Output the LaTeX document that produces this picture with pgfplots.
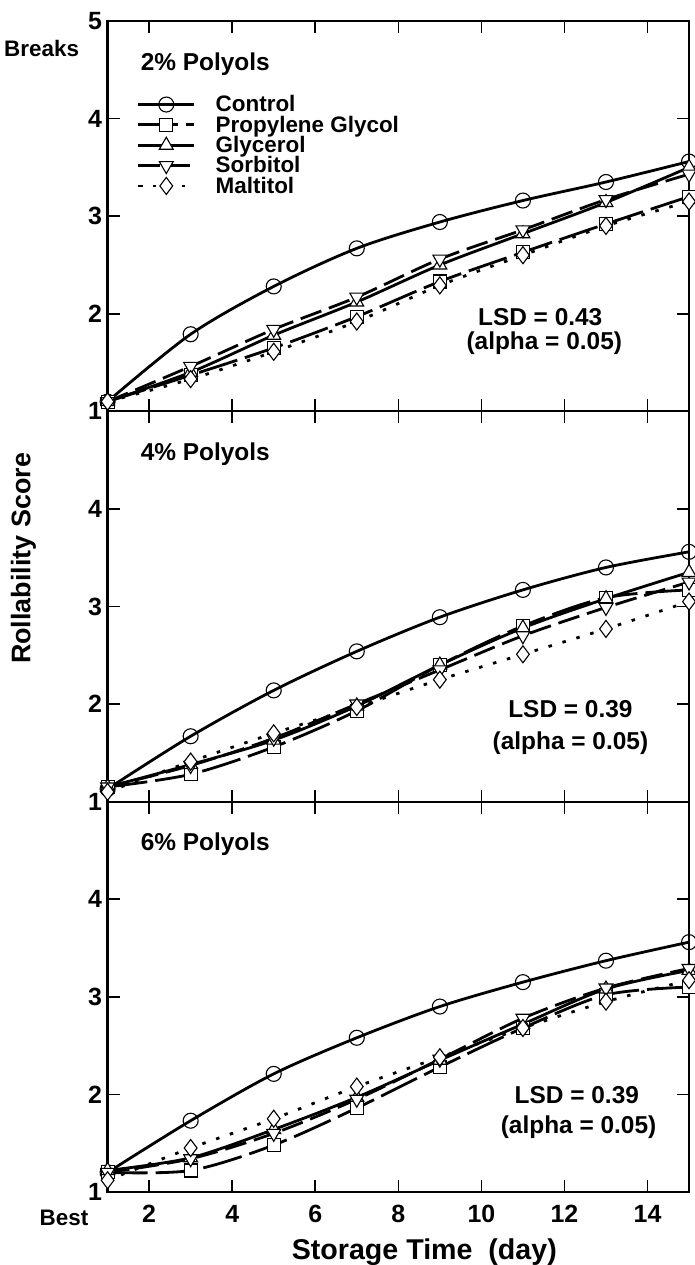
\documentclass[border=0pt]{standalone}
\usepackage{fontspec}
\setmainfont{Liberation Sans}
\usepackage{pgfplots}
\pgfplotsset{compat=1.18}

\pgfplotsset{
 panel/.style={
   scale only axis, width=581bp, height=390bp,
   xmin=1,xmax=15,ymin=1,ymax=5,
   xtick={2,4,...,14}, ytick={1,2,3,4,5},
   tick align=inside, major tick length=12bp,
   axis line style={line width=2.2bp},
   every tick/.style={line width=1.6bp, black},
   clip=false,
   /pgf/number format/assume math mode=true,
   tick label style={font=\fontsize{25}{25}\selectfont\bfseries},
   yticklabel style={xshift=-2bp},
   xticklabel style={yshift=-10bp},
   legend image code/.code={\draw[mark repeat=2,mark phase=2] plot coordinates {(0bp,0bp) (28bp,0bp) (56bp,0bp)};},
 },
 sC/.style={black, line width=2.8bp, solid, mark=o, mark size=7.5bp, mark options={fill=white, solid, line width=1.1bp}},
 sP/.style={black, line width=2.8bp, dash pattern=on 40bp off 8bp, mark=square*, mark size=6.5bp, mark options={fill=white, solid, line width=1.1bp}},
 sG/.style={black, line width=2.8bp, solid, mark=triangle*, mark size=8bp, mark options={fill=white, solid, line width=1.1bp}},
 sS/.style={black, line width=2.8bp, dash pattern=on 22bp off 8bp, mark=triangle*, mark size=8bp, mark options={fill=white, solid, line width=1.1bp, rotate=180}},
 sM/.style={black, line width=2.8bp, dash pattern=on 3.5bp off 11bp, mark=diamond*, mark size=8.5bp, mark options={fill=white, solid, line width=1.1bp}},
}

\newcommand{\lbl}{\fontsize{24.5}{24.5}\selectfont\bfseries}

\begin{document}
\begin{tikzpicture}
\useasboundingbox (-107.5bp,-73bp) rectangle (586.5bp,1191bp);

% ---------- top panel: 2% ----------
\begin{axis}[panel, at={(0bp,780bp)}, anchor=south west,
  xticklabels={}, yticklabels={1,2,3,4,5},
  legend style={draw=none, fill=none, at={(0.05,0.81)}, anchor=north west,
    inner sep=0pt, row sep=2bp, cells={anchor=west},
    nodes={inner ysep=0.3bp},
    font=\fontsize{22.5}{22.5}\selectfont\bfseries,
    /tikz/column 1/.style={column sep=18bp}}]
\addplot[sC, smooth] coordinates {(1,1.10)(3,1.79)(5,2.28)(7,2.67)(9,2.94)(11,3.16)(13,3.35)(15,3.56)};
\addlegendentry{Control}
\addplot[sP, smooth] coordinates {(1,1.10)(3,1.37)(5,1.65)(7,1.97)(9,2.33)(11,2.63)(13,2.92)(15,3.20)};
\addlegendentry{Propylene Glycol}
\addplot[sG, smooth] coordinates {(1,1.10)(3,1.40)(5,1.78)(7,2.12)(9,2.50)(11,2.82)(13,3.14)(15,3.50)};
\addlegendentry{Glycerol}
\addplot[sS, smooth] coordinates {(1,1.10)(3,1.46)(5,1.84)(7,2.17)(9,2.56)(11,2.86)(13,3.17)(15,3.43)};
\addlegendentry{Sorbitol}
\addplot[sM, smooth] coordinates {(1,1.10)(3,1.33)(5,1.61)(7,1.92)(9,2.29)(11,2.60)(13,2.90)(15,3.15)};
\addlegendentry{Maltitol}
\node[anchor=base west, font=\lbl] at (rel axis cs:0.051,0.874) {2\% Polyols};
\node[anchor=base, font=\lbl] at (rel axis cs:0.744,0.220) {LSD = 0.43};
\node[anchor=base, font=\lbl] at (rel axis cs:0.751,0.158) {(alpha = 0.05)};
\node[anchor=east, font=\fontsize{22.5}{22.5}\selectfont\bfseries] at (axis cs:1,4.72) [xshift=-25bp] {Breaks};
\end{axis}

% ---------- middle panel: 4% ----------
\begin{axis}[panel, at={(0bp,390bp)}, anchor=south west,
  xticklabels={}, yticklabels={1,2,3,4,}]
\addplot[sC, smooth] coordinates {(1,1.13)(3,1.67)(5,2.14)(7,2.54)(9,2.89)(11,3.17)(13,3.40)(15,3.56)};
\addplot[sP, smooth] coordinates {(1,1.15)(3,1.28)(5,1.56)(7,1.93)(9,2.40)(11,2.80)(13,3.09)(15,3.17)};
\addplot[sG, smooth] coordinates {(1,1.15)(3,1.38)(5,1.63)(7,1.98)(9,2.40)(11,2.78)(13,3.08)(15,3.35)};
\addplot[sS, smooth] coordinates {(1,1.15)(3,1.37)(5,1.65)(7,2.00)(9,2.35)(11,2.70)(13,2.99)(15,3.25)};
\addplot[sM, smooth] coordinates {(1,1.10)(3,1.41)(5,1.70)(7,1.97)(9,2.25)(11,2.51)(13,2.77)(15,3.05)};
\node[anchor=base west, font=\lbl] at (rel axis cs:0.051,0.874) {4\% Polyols};
\node[anchor=base, font=\lbl] at (rel axis cs:0.796,0.215) {LSD = 0.39};
\node[anchor=base, font=\lbl] at (rel axis cs:0.796,0.133) {(alpha = 0.05)};
\node[xshift=-84bp, rotate=90, font=\fontsize{27}{27}\selectfont\bfseries] at (rel axis cs:0,0.623) {Rollability Score};
\end{axis}

% ---------- bottom panel: 6% ----------
\begin{axis}[panel, at={(0bp,0bp)}, anchor=south west,
  yticklabels={1,2,3,4,}]
\addplot[sC, smooth] coordinates {(1,1.20)(3,1.73)(5,2.21)(7,2.58)(9,2.90)(11,3.15)(13,3.37)(15,3.56)};
\addplot[sP, smooth] coordinates {(1,1.20)(3,1.22)(5,1.48)(7,1.86)(9,2.28)(11,2.68)(13,3.02)(15,3.10)};
\addplot[sG, smooth] coordinates {(1,1.22)(3,1.35)(5,1.64)(7,1.97)(9,2.35)(11,2.72)(13,3.08)(15,3.27)};
\addplot[sS, smooth] coordinates {(1,1.20)(3,1.34)(5,1.60)(7,1.95)(9,2.36)(11,2.78)(13,3.09)(15,3.29)};
\addplot[sM, smooth] coordinates {(1,1.12)(3,1.45)(5,1.75)(7,2.08)(9,2.38)(11,2.68)(13,2.95)(15,3.17)};
\node[anchor=base west, font=\lbl] at (rel axis cs:0.051,0.874) {6\% Polyols};
\node[anchor=base, font=\lbl] at (rel axis cs:0.807,0.226) {LSD = 0.39};
\node[anchor=base, font=\lbl] at (rel axis cs:0.810,0.151) {(alpha = 0.05)};
\node[font=\fontsize{22.5}{22.5}\selectfont\bfseries] at (rel axis cs:0,0) [xshift=-43.5bp, yshift=-26bp] {Best};
\node[anchor=base, font=\fontsize{28.7}{28.7}\selectfont\bfseries] at (rel axis cs:0.5,0) [xshift=26bp, yshift=-68bp] {Storage Time\ \ (day)};
\end{axis}
\end{tikzpicture}
\end{document}
